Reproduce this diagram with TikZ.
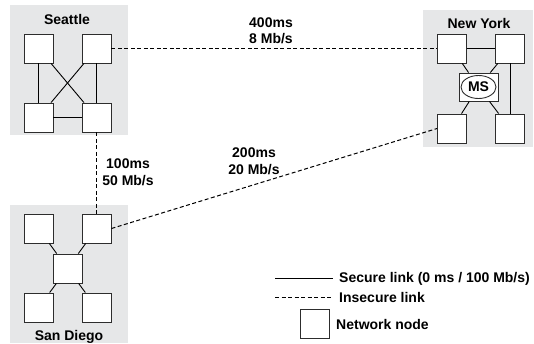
\documentclass[tikz,border=0pt]{standalone}
\usepackage{fontspec}
\setmainfont{Liberation Sans}
\usetikzlibrary{shapes.geometric}
\definecolor{sitegray}{RGB}{230,231,232}
\definecolor{nodeedge}{RGB}{45,45,45}
\begin{document}
\begin{tikzpicture}[x=1pt,y=-1pt,
  every node/.style={font=\fontsize{14}{17}\selectfont\bfseries},
  netnode/.style={draw=nodeedge,line width=0.9pt,fill=white,minimum width=29pt,minimum height=29pt,inner sep=0pt},
  site/.style={fill=sitegray,draw=none},
  secure/.style={line width=0.9pt,draw=black},
  insecure/.style={line width=1pt,draw=black,dash pattern=on 4pt off 2.5pt},
  lbl/.style={anchor=base,inner sep=0pt,align=center},
  leg/.style={anchor=base west,inner sep=0pt}]
\useasboundingbox (0,0) rectangle (534,343);

% site backgrounds
\fill[site] (10,5) rectangle (128,135);
\fill[site] (423,10) rectangle (533,147);
\fill[site] (10,205) rectangle (128,343);

% Seattle
\node[lbl] (stlabel) at (67,24) {Seattle};
\node[netnode] (stTL) at (38.5,48.5) {};
\node[netnode] (stTR) at (96.5,48.5) {};
\node[netnode] (stBL) at (38.5,117.5) {};
\node[netnode] (stBR) at (96.5,117.5) {};
\draw[secure] (stTL) -- (stBL);
\draw[secure] (stTR) -- (stBR);
\draw[secure] (stBL) -- (stBR);
\draw[secure] (stTL) -- (stBR);
\draw[secure] (stTR) -- (stBL);

% New York
\node[lbl] (nylabel) at (479,28) {New York};
\node[netnode] (nyTL) at (452,48.5) {};
\node[netnode] (nyTR) at (510,48.5) {};
\node[netnode] (nyBL) at (452,128.5) {};
\node[netnode] (nyBR) at (510,128.5) {};
\node[netnode,minimum width=39pt,minimum height=28pt] (ms) at (478.5,87) {};
\node[draw=nodeedge,line width=0.9pt,ellipse,minimum width=35pt,minimum height=23pt,inner sep=0pt] (msell) at (ms.center) {MS};
\draw[secure] (nyTL) -- (nyTR);
\draw[secure] (nyTR) -- (nyBR);
\draw[secure] (nyTL) -- (ms);
\draw[secure] (nyTR) -- (ms);
\draw[secure] (nyBL) -- (ms);
\draw[secure] (nyBR) -- (ms);

% San Diego
\node[lbl] (sdlabel) at (69,340) {San Diego};
\node[netnode] (sdTL) at (38.5,228.5) {};
\node[netnode] (sdTR) at (96.5,228.5) {};
\node[netnode] (sdC) at (67.5,268.5) {};
\node[netnode] (sdBL) at (38.5,307.5) {};
\node[netnode] (sdBR) at (96.5,307.5) {};
\draw[secure] (sdTL) -- (sdC);
\draw[secure] (sdTR) -- (sdC);
\draw[secure] (sdBL) -- (sdC);
\draw[secure] (sdBR) -- (sdC);

% insecure inter-site links
\draw[insecure] (stTR.east) -- (nyTL.west);
\draw[insecure] (stBR.south) -- (sdTR.north);
\draw[insecure] (sdTR.east) -- (nyBL.west);

% link labels
\node[lbl] (l400) at (271,27) {400ms};
\node[lbl] (l8) at (271,43) {8 Mb/s};
\node[lbl] (l100) at (128,168) {100ms};
\node[lbl] (l50) at (128,185) {50 Mb/s};
\node[lbl] (l200) at (254,157) {200ms};
\node[lbl] (l20) at (254,174) {20 Mb/s};

% legend
\coordinate (secA) at (275,278);
\coordinate (secB) at (333,278);
\coordinate (insA) at (275,297);
\coordinate (insB) at (333,297);
\draw[secure] (secA) -- (secB);
\draw[insecure] (insA) -- (insB);
\node[leg] (legsec) at (339,282) {Secure link (0 ms / 100 Mb/s)};
\node[leg] (legins) at (339,302) {Insecure link};
\node[netnode] (legnode) at (315,323.5) {};
\node[leg] (legnet) at (336,329) {Network node};
\end{tikzpicture}
\end{document}
